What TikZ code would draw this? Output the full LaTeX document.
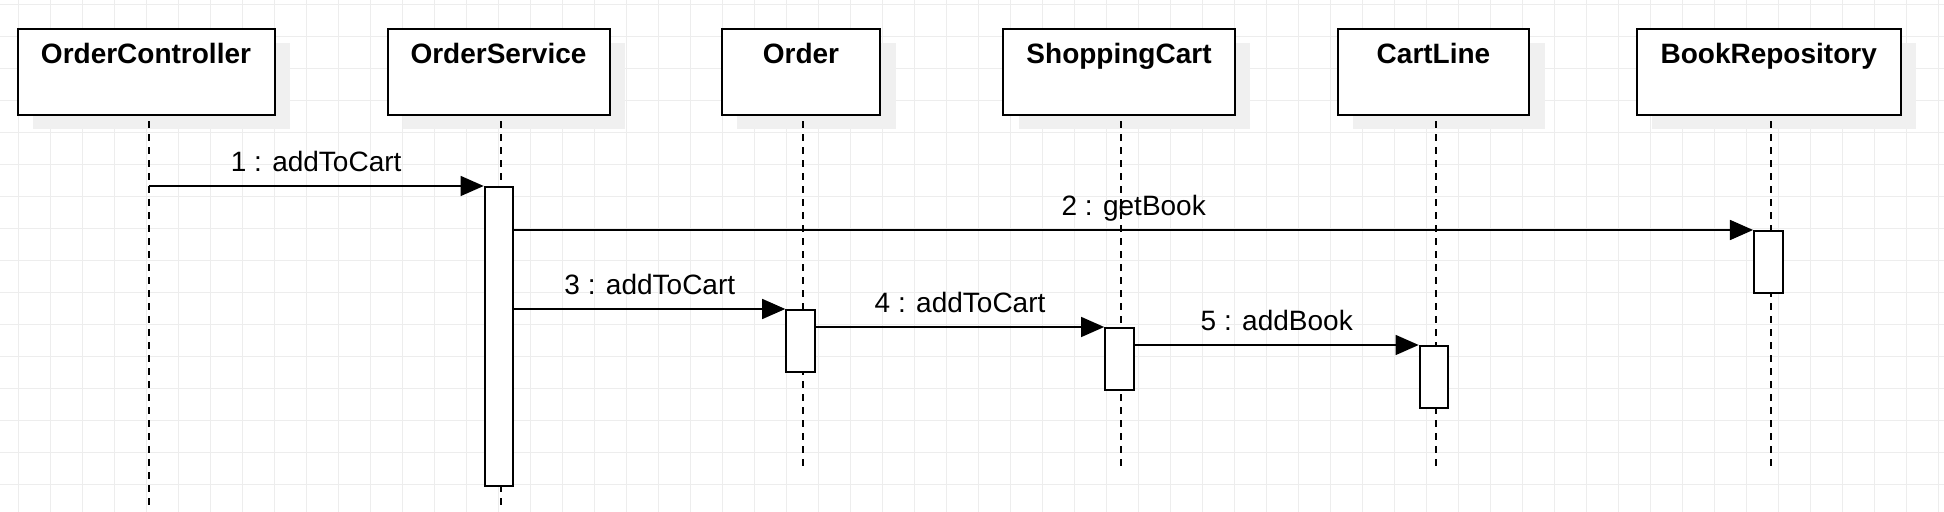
\documentclass[tikz,border=0pt]{standalone}
\usepackage{fontspec}
\setmainfont{Liberation Sans}
\usetikzlibrary{arrows.meta}
\begin{document}
\begin{tikzpicture}[x=0.5pt,y=-0.5pt,
  gridline/.style={draw=black!7,line width=0.5pt},
  headbox/.style={draw=black,line width=1pt,fill=white,minimum height=43pt,inner sep=0pt,anchor=north},
  shadowbox/.style={fill=black!6,draw=none},
  headtext/.style={font=\fontsize{14pt}{16pt}\selectfont\bfseries,anchor=base,inner sep=0pt},
  life/.style={draw=black,line width=1pt,dash pattern=on 3.5pt off 3pt},
  actbox/.style={draw=black,line width=1pt,fill=white,minimum width=14.3pt,inner sep=0pt,anchor=north},
  msg/.style={draw=black,line width=0.9pt,-{Triangle[length=11.6pt,width=10pt]}},
  msglabel/.style={font=\fontsize{14pt}{16pt}\selectfont,anchor=base,inner sep=0pt,yshift=7pt}
]
\useasboundingbox (0,0) rectangle (1944,512);
\fill[white] (0,0) rectangle (1944,512);
% grid
\foreach \k in {0,...,60} {\draw[gridline] ({18.7+32*\k},0) -- ({18.7+32*\k},512);}
\foreach \k in {0,...,15} {\draw[gridline] (0,{4.3+32*\k}) -- (1944,{4.3+32*\k});}
% shadows
\foreach \l/\r in {17.4/274.4,387.6/609.4,721.7/880,1003.2/1234.9,1337.8/1529.2,1636.8/1900.5}
  {\fill[shadowbox] ({\l+15.5},43.3) rectangle ({\r+15.5},128.7);}
% header boxes
\node[headbox,minimum width=128.5pt] (oc) at (146,28) {};
\node[headbox,minimum width=111pt] (os) at (498.5,28) {};
\node[headbox,minimum width=79pt] (or) at (801,28) {};
\node[headbox,minimum width=116pt] (sc) at (1119,28) {};
\node[headbox,minimum width=95.7pt] (cl) at (1433.5,28) {};
\node[headbox,minimum width=132pt] (br) at (1768.7,28) {};
\foreach \n/\t in {oc/OrderController,os/OrderService,or/Order,sc/ShoppingCart,cl/CartLine,br/BookRepository}
  {\node[headtext,yshift=-18pt] (\n-name) at (\n.north) {\t};}
% lifeline tops and ends
\foreach \n/\x/\e in {oc/148.5/505,os/500.8/505,or/803/466,sc/1121.3/466,cl/1436/466,br/1770.8/466} {
  \coordinate (\n-top) at (\x,113.7);
  \coordinate (\n-end) at (\x,\e);
  \draw[life] (\n-end) -- (\n-top);
}
% activations
\node[actbox,minimum height=149.5pt] (osact) at (499,186) {};
\node[actbox,minimum height=31pt] (bract) at (1768.4,230) {};
\node[actbox,minimum height=31pt] (oract) at (800.6,309) {};
\node[actbox,minimum height=31pt] (scact) at (1119.5,327) {};
\node[actbox,minimum height=31pt] (clact) at (1434,345) {};
% messages
\draw[msg] (oc-top |- osact.north west) -- node[msglabel] {1 : addToCart} (osact.north west);
\draw[msg] (osact.east |- bract.north west) -- node[msglabel] {2 : getBook} (bract.north west);
\draw[msg] (osact.east |- oract.north west) -- node[msglabel] {3 : addToCart} (oract.north west);
\draw[msg] (oract.east |- scact.north west) -- node[msglabel] {4 : addToCart} (scact.north west);
\draw[msg] (scact.east |- clact.north west) -- node[msglabel] {5 : addBook} (clact.north west);
\end{tikzpicture}
\end{document}
